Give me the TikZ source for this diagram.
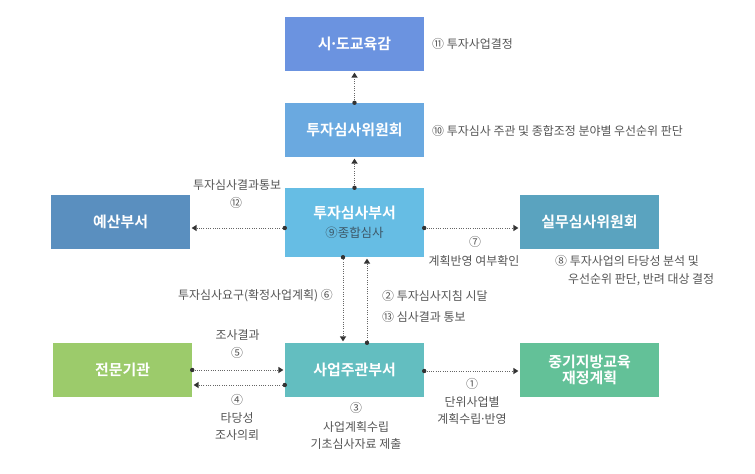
\documentclass[tikz,border=0pt]{standalone}
\usepackage{fontspec}
\setmainfont{Noto Sans CJK KR}[BoldFont={Noto Sans CJK KR Bold}]
\usetikzlibrary{arrows.meta}
\definecolor{cSido}{HTML}{6B93E0}
\definecolor{cWiwon}{HTML}{6AA9E0}
\definecolor{cBu}{HTML}{66BDE4}
\definecolor{cYesan}{HTML}{5A8FBF}
\definecolor{cSilmu}{HTML}{5AA3BF}
\definecolor{cJeon}{HTML}{9CCB6B}
\definecolor{cSaup}{HTML}{63BEC0}
\definecolor{cJung}{HTML}{63C198}
\definecolor{cLbl}{HTML}{555555}
\definecolor{cLine}{HTML}{666666}
\definecolor{cNine}{HTML}{3E5868}
\newcommand{\mdot}{\kern-0.15em·\kern-0.15em}
\begin{document}
\begin{tikzpicture}[x=1bp,y=-1bp,
  box/.style={minimum width=139bp,minimum height=54bp,inner sep=0pt,text=white,
    font=\fontsize{15}{18}\selectfont\bfseries,align=center},
  lbl/.style={text=cLbl,font=\fontsize{12}{14}\selectfont,inner sep=0pt},
  conn/.style={draw=cLine,line width=0.8bp,dash pattern=on 1bp off 1.3bp,
    -{Triangle[length=5bp,width=6.5bp,color=black!80,fill=black!80,line width=0pt]},shorten >=1.5bp},
  dotmark/.style={fill=black!80}]
\useasboundingbox (0,0) rectangle (755,474);
% boxes
\node[box,fill=cSido] (sido) at (354.5,44) {시\mdot 도교육감};
\node[box,fill=cWiwon] (wiwon) at (354.5,130) {투자심사위원회};
\node[box,fill=cBu,minimum height=69bp] (bu) at (354.5,222.5)
  {투자심사부서\\[1bp]{\fontsize{12.5}{14}\selectfont\mdseries\color{cNine}⑨종합심사}};
\node[box,fill=cYesan] (yesan) at (120.5,222) {예산부서};
\node[box,fill=cSilmu] (silmu) at (589.5,222) {실무심사위원회};
\node[box,fill=cJeon] (jeon) at (122.5,370) {전문기관};
\node[box,fill=cSaup] (saup) at (354.5,370) {사업주관부서};
\node[box,fill=cJung] (jung) at (589.5,370) {중기지방교육\\[-2bp]재정계획};
% connectors
\coordinate (p1) at (wiwon.north);
\draw[conn] (p1) -- (sido.south);
\coordinate (p2) at (bu.north);
\draw[conn] (p2) -- (wiwon.south);
\coordinate (p3) at ([yshift=-5.5bp]bu.west);
\draw[conn] (p3) -- (p3 -| yesan.east);
\coordinate (p4) at ([yshift=-5.5bp]bu.east);
\draw[conn] (p4) -- (p4 -| silmu.west);
\coordinate (p5) at ([xshift=-11.5bp]bu.south);
\draw[conn] (p5) -- (p5 |- saup.north);
\coordinate (p6) at ([xshift=12.5bp]saup.north);
\draw[conn] (p6) -- (p6 |- bu.south);
\coordinate (p7) at (jeon.east);
\draw[conn] (p7) -- (p7 -| saup.west);
\coordinate (p8) at ([yshift=-15bp]saup.west);
\draw[conn] (p8) -- (p8 -| jeon.east);
\coordinate (p9) at ([yshift=-1bp]saup.east);
\draw[conn] (p9) -- (p9 -| jung.west);
\foreach \p in {p1,p2,p3,p4,p5,p6,p7,p8,p9} \fill[dotmark] (\p) circle (2.2bp);
% labels
\node[lbl,anchor=west] (l11) at (432,44) {⑪ 투자사업결정};
\node[lbl,anchor=west] (l10) at (432,131) {⑩ 투자심사 주관 및 종합조정 분야별 우선순위 판단};
\node[lbl] (l12a) at (237,185) {투자심사결과통보};
\node[lbl] (l12b) at (236,203) {⑫};
\node[lbl] (l7a) at (475,242) {⑦};
\node[lbl] (l7b) at (474,260.5) {계획반영 여부확인};
\node[lbl,anchor=west] (l8a) at (555,261) {⑧ 투자사업의 타당성 분석 및};
\node[lbl,anchor=west] (l8b) at (568,280) {우선순위 판단, 반려 대상 결정};
\node[lbl,anchor=east] (l6) at (333,296) {투자심사요구(확정사업계획) ⑥};
\node[lbl,anchor=west] (l2) at (382,296) {② 투자심사지침 시달};
\node[lbl,anchor=west] (l13) at (382,317) {⑬ 심사결과 통보};
\node[lbl] (l5a) at (237.5,335) {조사결과};
\node[lbl] (l5b) at (237,353) {⑤};
\node[lbl] (l4a) at (237,400) {④};
\node[lbl] (l4b) at (237,418) {타당성};
\node[lbl] (l4c) at (237,435) {조사의뢰};
\node[lbl] (l3a) at (356,408) {③};
\node[lbl] (l3b) at (356,427) {사업계획수립};
\node[lbl] (l3c) at (356,444) {기초심사자료 제출};
\node[lbl] (l1a) at (472,384) {①};
\node[lbl] (l1b) at (472,402) {단위사업별};
\node[lbl] (l1c) at (472,419) {계획수립\mdot 반영};
\end{tikzpicture}
\end{document}
